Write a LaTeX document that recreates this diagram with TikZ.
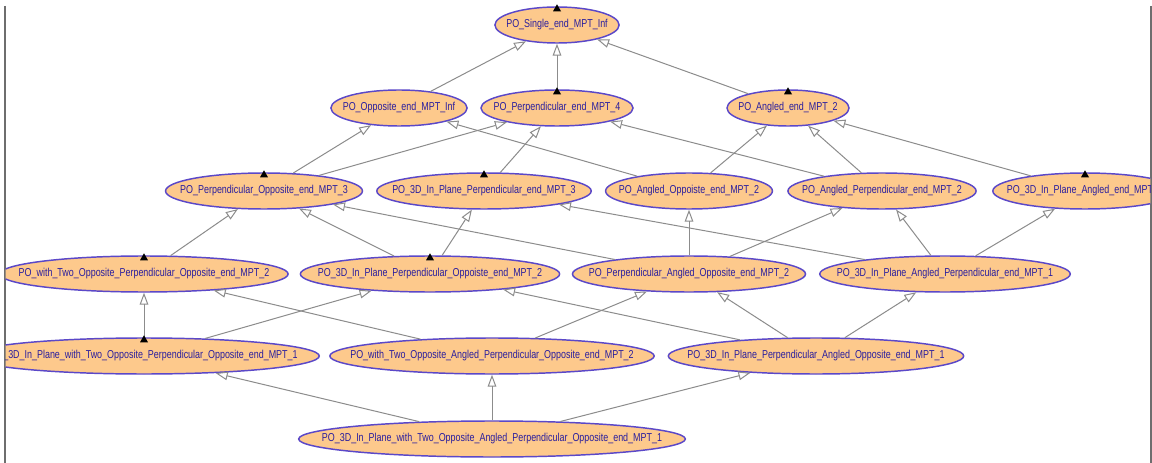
\documentclass[tikz,border=0pt]{standalone}
\usepackage{fontspec}
\usetikzlibrary{arrows.meta,shapes.geometric,calc}
\newfontfamily\pofont[FakeStretch=0.78]{Liberation Sans}

\definecolor{pofill}{HTML}{FDC98C}
\definecolor{poline}{HTML}{5B48C8}
\definecolor{potext}{HTML}{2A1E9E}
\definecolor{isaline}{HTML}{8C8C8C}
\definecolor{framegray}{HTML}{6E6E6E}

% ellipse a little wider than its label
\newcommand\ponode[3]{%
  \path node[polabel, inner sep=0pt] (#1w) at (#2) {\phantom{#3}}
    let \p1=($(#1w.east)-(#1w.west)$) in
    node[po, minimum width=1.1*\x1+9pt] (#1) at (#2) {\makebox[0pt]{#3}};}

\begin{document}
\begin{tikzpicture}[x=0.75pt,y=-0.75pt,
  polabel/.style={font=\pofont\fontsize{8.6}{10}\selectfont},
  po/.style={polabel, ellipse, draw=poline, line width=1.1pt, fill=pofill, text=potext,
    inner sep=0pt, minimum height=27pt},
  isa/.style={draw=isaline, line width=0.75pt, -{Triangle[open, length=9pt, width=6.5pt]}}]

  \fill[white] (0,0) rectangle (1152,463);
  \useasboundingbox (0,0) rectangle (1152,463);

  % side borders of the view
  \draw[framegray, line width=1.2pt] (5,6) -- (5,463);
  \draw[framegray, line width=1.2pt] (1151,6) -- (1151,463);

  \begin{scope}
  \clip (5.6,0) rectangle (1150.4,463);

  % level 0 and 1
  \ponode{single}{557,25}{PO\_Single\_end\_MPT\_Inf}
  \ponode{opposite}{399,108}{PO\_Opposite\_end\_MPT\_Inf}
  \ponode{perp}{557,108}{PO\_Perpendicular\_end\_MPT\_4}
  \ponode{angled}{788,108}{PO\_Angled\_end\_MPT\_2}

  % level 2
  \ponode{perpopp}{264,191}{PO\_Perpendicular\_Opposite\_end\_MPT\_3}
  \ponode{inperp}{484,191}{PO\_3D\_In\_Plane\_Perpendicular\_end\_MPT\_3}
  \ponode{angopp}{689,191}{PO\_Angled\_Oppoiste\_end\_MPT\_2}
  \ponode{angperp}{882,191}{PO\_Angled\_Perpendicular\_end\_MPT\_2}
  \ponode{inangled}{1085,191}{PO\_3D\_In\_Plane\_Angled\_end\_MPT\_1}

  % level 3
  \ponode{twoperpopp}{144,274}{PO\_with\_Two\_Opposite\_Perpendicular\_Opposite\_end\_MPT\_2}
  \ponode{inperpopp}{430,274}{PO\_3D\_In\_Plane\_Perpendicular\_Oppoiste\_end\_MPT\_2}
  \ponode{perpangopp}{689,274}{PO\_Perpendicular\_Angled\_Opposite\_end\_MPT\_2}
  \ponode{inangperp}{945,274}{PO\_3D\_In\_Plane\_Angled\_Perpendicular\_end\_MPT\_1}

  % level 4 and 5
  \ponode{intwoperpopp}{144,356}{PO\_3D\_In\_Plane\_with\_Two\_Opposite\_Perpendicular\_Opposite\_end\_MPT\_1}
  \ponode{twoangperpopp}{492,356}{PO\_with\_Two\_Opposite\_Angled\_Perpendicular\_Opposite\_end\_MPT\_2}
  \ponode{inperpangopp}{816,356}{PO\_3D\_In\_Plane\_Perpendicular\_Angled\_Opposite\_end\_MPT\_1}
  \ponode{intwoangperpopp}{492,439}{PO\_3D\_In\_Plane\_with\_Two\_Opposite\_Angled\_Perpendicular\_Opposite\_end\_MPT\_1}

  % subclass links, child to parent
  \draw[isa] (opposite) -- (single);
  \draw[isa] (perp) -- (single);
  \draw[isa] (angled) -- (single);

  \draw[isa] (perpopp) -- (opposite);
  \draw[isa] (perpopp) -- (perp);
  \draw[isa] (inperp) -- (perp);
  \draw[isa] (angopp) -- (opposite);
  \draw[isa] (angopp) -- (angled);
  \draw[isa] (angperp) -- (perp);
  \draw[isa] (angperp) -- (angled);
  \draw[isa] (inangled) -- (angled);

  \draw[isa] (twoperpopp) -- (perpopp);
  \draw[isa] (inperpopp) -- (perpopp);
  \draw[isa] (inperpopp) -- (inperp);
  \draw[isa] (perpangopp) -- (perpopp);
  \draw[isa] (perpangopp) -- (angopp);
  \draw[isa] (perpangopp) -- (angperp);
  \draw[isa] (inangperp) -- (inperp);
  \draw[isa] (inangperp) -- (angperp);
  \draw[isa] (inangperp) -- (inangled);

  \draw[isa] (intwoperpopp) -- (twoperpopp);
  \draw[isa] (intwoperpopp) -- (inperpopp);
  \draw[isa] (twoangperpopp) -- (twoperpopp);
  \draw[isa] (twoangperpopp) -- (perpangopp);
  \draw[isa] (inperpangopp) -- (inperpopp);
  \draw[isa] (inperpangopp) -- (perpangopp);
  \draw[isa] (inperpangopp) -- (inangperp);

  \draw[isa] (intwoangperpopp) -- (intwoperpopp);
  \draw[isa] (intwoangperpopp) -- (twoangperpopp);
  \draw[isa] (intwoangperpopp) -- (inperpangopp);

  % expanded marks on top
  \foreach \n in {single,perp,angled,perpopp,inperp,inangled,twoperpopp,inperpopp,intwoperpopp}
    \fill (\n.north) +(0,-2) -- +(4,5) -- +(-4,5) -- cycle;
  \end{scope}
\end{tikzpicture}
\end{document}
